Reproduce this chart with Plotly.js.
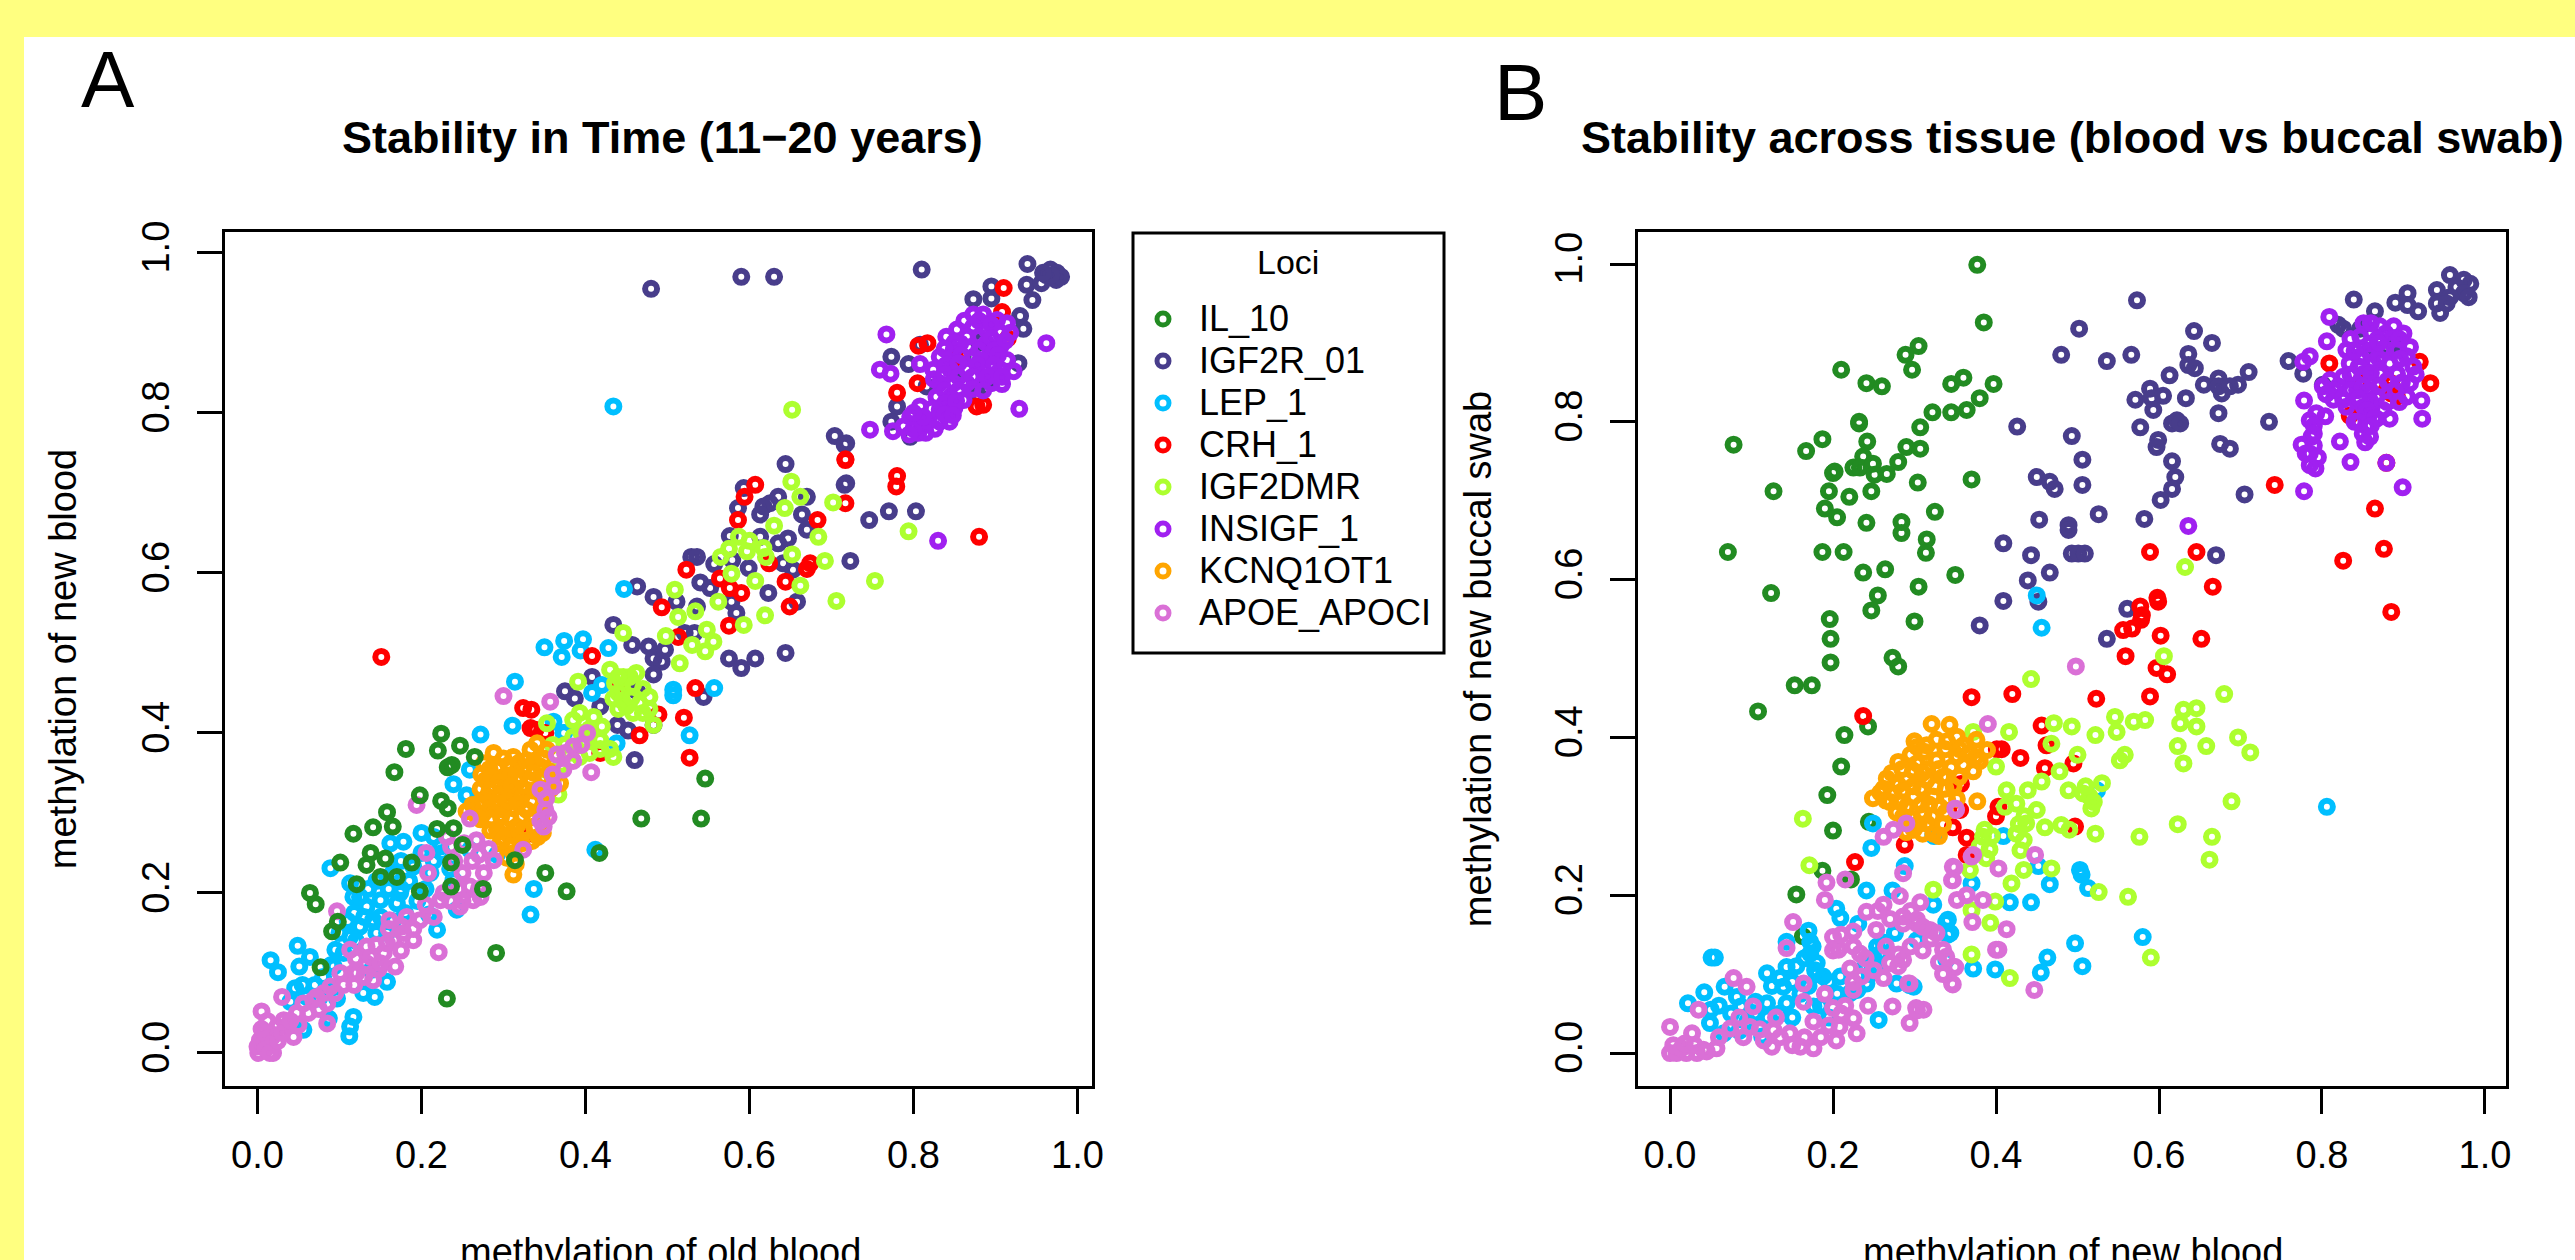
<!DOCTYPE html>
<html><head><meta charset="utf-8">
<script src="https://cdn.plot.ly/plotly-3.0.1.min.js"></script>
<style>html,body{margin:0;padding:0;background:#fff}#c{width:2575px;height:1260px}</style></head>
<body><div id="c"></div>
<script>
const LOCI = ["IL_10","IGF2R_01","LEP_1","CRH_1","IGF2DMR","INSIGF_1","KCNQ1OT1","APOE_APOCI"];
const COLORS = ["#228B22","#483D8B","#00BFFF","#FF0000","#ADFF2F","#A020F0","#FFA500","#DA70D6"];
const TICKS = [0,0.2,0.4,0.6,0.8,1.0];

// Panel A: [old blood, new blood]
const A_IL10 = [[.224,.399],[.247,.384],[.220,.378],[.181,.380],[.265,.370],[.237,.360],[.232,.357],[.167,.351],[.198,.322],[.224,.315],[.232,.306],[.158,.301],[.141,.282],[.165,.283],[.117,.274],[.219,.280],[.239,.281],[.250,.260],[.138,.250],[.156,.243],[.133,.235],[.101,.238],[.188,.238],[.236,.238],[.150,.220],[.170,.220],[.121,.211],[.198,.202],[.236,.208],[.275,.205],[.064,.200],[.071,.186],[.098,.164],[.091,.152],[.077,.107],[.314,.241],[.351,.225],[.377,.202],[.291,.125],[.231,.068],[.417,.250],[.546,.343],[.468,.293],[.541,.293]];
const A_IGF2R = [[.810,.979],[.939,.986],[.938,.960],[.956,.962],[.945,.941],[.967,.979],[.975,.975],[.962,.972],[.974,.966],[.980,.970],[.968,.972],[.958,.975],[.873,.942],[.895,.958],[.895,.943],[.930,.921],[.934,.905],[.928,.862],[.773,.870],[.794,.861],[.808,.885],[.816,.833],[.780,.808],[.773,.789],[.796,.770],[.879,.822],[.880,.888],[.718,.762],[.718,.712],[.850,.850],[.860,.870],[.890,.840],[.704,.771],[.716,.760],[.644,.736],[.716,.710],[.803,.677],[.770,.677],[.746,.666],[.723,.615],[.593,.706],[.586,.681],[.625,.687],[.617,.683],[.635,.695],[.670,.695],[.613,.673],[.664,.673],[.670,.654],[.576,.646],[.613,.645],[.635,.637],[.647,.643],[.529,.620],[.536,.620],[.557,.611],[.579,.616],[.599,.606],[.641,.612],[.653,.604],[.540,.588],[.552,.581],[.623,.575],[.658,.564],[.578,.564],[.584,.550],[.536,.558],[.483,.570],[.463,.583],[.511,.564],[.521,.525],[.533,.525],[.434,.535],[.457,.510],[.477,.508],[.483,.493],[.493,.489],[.497,.504],[.483,.473],[.408,.470],[.375,.452],[.387,.443],[.418,.433],[.463,.452],[.575,.493],[.590,.481],[.607,.493],[.644,.500],[.544,.445],[.439,.410],[.452,.403],[.483,.410],[.460,.366],[.480,.955],[.590,.970],[.630,.970]];
const A_LEP = [[.314,.464],[.272,.398],[.311,.409],[.374,.400],[.239,.336],[.259,.354],[.255,.322],[.089,.231],[.113,.212],[.162,.262],[.178,.264],[.200,.275],[.223,.258],[.117,.195],[.133,.183],[.150,.191],[.170,.187],[.141,.166],[.125,.158],[.158,.150],[.219,.154],[.209,.173],[.243,.179],[.337,.205],[.333,.173],[.412,.254],[.016,.116],[.025,.101],[.049,.134],[.064,.120],[.051,.108],[.095,.129],[.093,.108],[.046,.081],[.040,.064],[.097,.068],[.139,.104],[.158,.089],[.129,.075],[.143,.070],[.087,.043],[.117,.045],[.113,.033],[.112,.021],[.056,.029],[.113,.145],[.239,.216],[.174,.200],[.190,.233],[.211,.225],[.259,.254],[.292,.248],[.350,.507],[.371,.495],[.374,.515],[.397,.517],[.394,.503],[.428,.506],[.447,.580],[.507,.454],[.507,.447],[.557,.456],[.527,.397],[.408,.450],[.420,.460],[.373,.400],[.438,.387],[.361,.414],[.434,.808],[.100,.150],[.110,.165],[.118,.175],[.125,.195],[.135,.205],[.145,.215],[.160,.205],[.165,.225],[.175,.240],[.185,.215],[.195,.190],[.205,.205],[.215,.240],[.225,.250],[.235,.230],[.150,.170],[.165,.165],[.180,.175],[.120,.140],[.105,.125],[.090,.110],[.080,.095],[.070,.085],[.060,.070],[.085,.080],[.055,.085],[.075,.068],[.130,.170],[.145,.150],[.175,.205],[.200,.250],[.215,.270]];
const A_CRH = [[.910,.956],[.908,.926],[.915,.893],[.851,.869],[.806,.884],[.817,.887],[.805,.837],[.780,.825],[.885,.810],[.877,.808],[.717,.741],[.780,.721],[.607,.710],[.594,.695],[.586,.666],[.683,.666],[.717,.742],[.717,.687],[.779,.708],[.624,.612],[.674,.612],[.670,.605],[.523,.604],[.564,.593],[.590,.575],[.644,.589],[.576,.581],[.649,.558],[.493,.557],[.575,.534],[.513,.520],[.408,.496],[.438,.460],[.534,.456],[.489,.423],[.520,.419],[.466,.397],[.527,.369],[.418,.375],[.334,.429],[.339,.404],[.351,.400],[.151,.495],[.324,.431],[.333,.406],[.326,.272],[.293,.356],[.880,.645]];
const A_IGF2DMR = [[.651,.714],[.662,.695],[.702,.688],[.643,.681],[.630,.659],[.684,.645],[.587,.645],[.794,.652],[.597,.627],[.617,.631],[.652,.623],[.692,.615],[.753,.590],[.706,.565],[.619,.547],[.662,.584],[.607,.590],[.578,.599],[.593,.535],[.562,.564],[.509,.579],[.534,.552],[.513,.545],[.498,.521],[.556,.514],[.546,.502],[.548,.529],[.515,.487],[.446,.525],[.446,.470],[.454,.470],[.462,.475],[.430,.479],[.434,.443],[.450,.433],[.466,.437],[.391,.464],[.393,.425],[.353,.412],[.385,.416],[.418,.391],[.434,.370],[.393,.370],[.367,.323],[.351,.354],[.483,.410],[.652,.804],[.440,.450],[.470,.425],[.410,.420],[.375,.385],[.400,.390],[.530,.510],[.436,.462],[.445,.455],[.458,.460],[.470,.455],[.445,.440],[.456,.443],[.478,.445],[.440,.430],[.458,.425],[.478,.430],[.420,.408],[.405,.405],[.395,.400],[.385,.395],[.418,.380],[.405,.375],[.380,.375],[.370,.360],[.360,.385],[.430,.380],[.440,.470],[.565,.620],[.575,.630],[.600,.640],[.620,.620]];
const A_INSIGF = [[.767,.898],[.962,.887],[.929,.805],[.747,.779],[.759,.854],[.772,.849],[.775,.777],[.873,.923],[.885,.923],[.902,.916],[.914,.912],[.853,.904],[.873,.908],[.889,.904],[.906,.900],[.918,.900],[.840,.895],[.857,.887],[.889,.887],[.906,.883],[.849,.879],[.832,.870],[.873,.870],[.893,.870],[.914,.866],[.808,.861],[.824,.854],[.845,.854],[.865,.854],[.885,.854],[.906,.854],[.922,.852],[.832,.837],[.849,.837],[.865,.837],[.895,.837],[.908,.836],[.828,.820],[.845,.820],[.861,.816],[.832,.804],[.850,.806],[.844,.789],[.832,.789],[.808,.808],[.796,.795],[.808,.791],[.788,.783],[.806,.775],[.816,.787],[.830,.640],[.862,.915],[.880,.915],[.895,.910],[.865,.895],[.880,.895],[.895,.893],[.850,.888],[.868,.882],[.880,.878],[.898,.878],[.912,.890],[.838,.880],[.858,.872],[.882,.866],[.903,.872],[.840,.860],[.855,.862],[.878,.860],[.898,.860],[.825,.842],[.838,.848],[.855,.845],[.872,.845],[.890,.845],[.908,.845],[.838,.828],[.855,.828],[.872,.830],[.885,.828],[.838,.812],[.852,.815],[.822,.805],[.838,.798],[.826,.780],[.815,.775],[.800,.780],[.795,.773],[.812,.795],[.800,.800],[.848,.797]];
const A_KCNQ = [[.276,.362],[.300,.368],[.333,.379],[.278,.341],[.300,.345],[.324,.354],[.345,.358],[.280,.320],[.304,.325],[.328,.329],[.276,.300],[.300,.304],[.328,.304],[.345,.300],[.369,.337],[.292,.279],[.316,.283],[.337,.283],[.348,.275],[.296,.262],[.316,.270],[.255,.302],[.288,.375],[.312,.370],[.333,.341],[.312,.306],[.288,.333],[.316,.341],[.288,.312],[.312,.250],[.312,.223],[.328,.366],[.341,.387],[.353,.379],[.283,.355],[.294,.358],[.306,.360],[.318,.362],[.337,.365],[.349,.368],[.273,.348],[.285,.345],[.294,.338],[.308,.347],[.320,.345],[.337,.350],[.350,.345],[.272,.330],[.283,.328],[.296,.322],[.310,.333],[.322,.320],[.336,.328],[.347,.322],[.360,.340],[.270,.312],[.283,.305],[.294,.312],[.305,.315],[.318,.312],[.335,.315],[.349,.312],[.272,.292],[.285,.293],[.297,.295],[.309,.292],[.322,.295],[.335,.295],[.347,.290],[.284,.278],[.300,.282],[.308,.274],[.325,.280],[.342,.270],[.300,.268],[.308,.258],[.322,.262],[.335,.265],[.304,.244],[.315,.236],[.262,.310],[.268,.295],[.358,.330],[.356,.352]];
const A_APOE = [[.001,.000],[.003,.016],[.019,.000],[.005,.052],[.030,.070],[.024,.033],[.036,.033],[.044,.020],[.068,.066],[.056,.062],[.081,.075],[.085,.037],[.101,.100],[.117,.100],[.141,.091],[.168,.108],[.113,.129],[.133,.133],[.154,.125],[.166,.141],[.190,.141],[.221,.126],[.182,.170],[.161,.166],[.097,.177],[.194,.310],[.300,.446],[.357,.439],[.407,.351],[.208,.225],[.223,.191],[.247,.183],[.259,.208],[.276,.225],[.288,.241],[.324,.254],[.206,.250],[.231,.270],[.259,.293],[.267,.266],[.351,.304],[.345,.329],[.365,.373],[.385,.383],[.402,.400],[.373,.354],[.227,.200],[.263,.191],[.198,.166],[.176,.158],[.133,.112],[.158,.137],[.121,.100],[.089,.083],[.072,.070],[.048,.050],[.032,.041],[.015,.025],[.009,.012],[.000,.008],[.361,.333],[.349,.283],[.010,.005],[.015,.000],[.008,.025],[.018,.020],[.025,.015],[.005,.030],[.012,.040],[.030,.025],[.040,.040],[.050,.035],[.062,.050],[.075,.055],[.085,.062],[.095,.075],[.105,.085],[.118,.085],[.130,.095],[.148,.105],[.120,.118],[.138,.120],[.150,.112],[.175,.128],[.145,.135],[.160,.155],[.178,.150],[.190,.155],[.215,.170],[.205,.185],[.235,.190],[.245,.205],[.270,.205],[.250,.225],[.240,.240],[.262,.240],[.270,.248],[.282,.255],[.236,.258],[.252,.262],[.250,.190],[.272,.195],[.345,.290],[.355,.295],[.352,.318],[.360,.348],[.375,.375],[.395,.385],[.385,.365]];

// Panel B: [new blood, new buccal swab]
const B_IL10 = [[.377,.999],[.385,.926],[.305,.896],[.289,.885],[.297,.866],[.210,.866],[.241,.849],[.260,.845],[.360,.856],[.345,.848],[.397,.848],[.380,.830],[.364,.815],[.345,.812],[.322,.812],[.307,.793],[.232,.800],[.232,.798],[.242,.775],[.187,.778],[.167,.763],[.078,.771],[.290,.768],[.307,.766],[.237,.756],[.280,.749],[.225,.742],[.233,.742],[.249,.747],[.251,.733],[.266,.734],[.202,.737],[.200,.735],[.304,.723],[.370,.727],[.127,.712],[.195,.712],[.220,.705],[.247,.712],[.190,.690],[.205,.679],[.325,.686],[.241,.672],[.284,.673],[.284,.659],[.315,.651],[.314,.634],[.071,.635],[.187,.635],[.213,.635],[.237,.609],[.264,.613],[.350,.606],[.305,.591],[.124,.583],[.255,.580],[.247,.561],[.196,.550],[.300,.547],[.197,.525],[.273,.501],[.197,.495],[.280,.490],[.153,.466],[.174,.466],[.108,.433],[.243,.414],[.214,.403],[.210,.363],[.193,.327],[.200,.282],[.244,.293],[.187,.231],[.222,.220],[.155,.201],[.163,.148]];
const B_IGF2R = [[.502,.918],[.480,.885],[.536,.877],[.426,.794],[.493,.782],[.506,.752],[.450,.730],[.466,.724],[.472,.715],[.506,.720],[.526,.683],[.453,.676],[.489,.669],[.489,.663],[.409,.646],[.443,.631],[.493,.633],[.501,.633],[.509,.633],[.466,.609],[.439,.599],[.409,.573],[.452,.572],[.380,.542],[.536,.525],[.573,.954],[.643,.915],[.665,.900],[.566,.885],[.636,.886],[.613,.859],[.636,.872],[.644,.868],[.655,.847],[.673,.855],[.673,.845],[.677,.836],[.710,.863],[.697,.847],[.687,.845],[.571,.828],[.589,.842],[.591,.830],[.605,.833],[.633,.830],[.593,.815],[.673,.811],[.735,.800],[.577,.793],[.616,.798],[.622,.802],[.626,.798],[.599,.777],[.597,.768],[.675,.772],[.687,.766],[.616,.750],[.620,.730],[.616,.715],[.602,.701],[.705,.708],[.582,.677],[.670,.631],[.759,.877],[.777,.861],[.839,.955],[.865,.940],[.890,.951],[.905,.963],[.905,.948],[.918,.940],[.941,.967],[.941,.950],[.945,.938],[.957,.986],[.974,.980],[.982,.975],[.965,.971],[.974,.963],[.957,.958],[.980,.958],[.953,.950],[.820,.923],[.826,.918],[.847,.918],[.879,.895],[.891,.899],[.867,.891],[.801,.847],[.561,.563]];
const B_LEP = [[.450,.580],[.456,.539],[.249,.291],[.247,.260],[.323,.276],[.241,.206],[.273,.206],[.288,.237],[.323,.188],[.204,.183],[.209,.171],[.231,.164],[.276,.152],[.341,.169],[.341,.150],[.303,.143],[.172,.141],[.143,.141],[.055,.121],[.051,.121],[.254,.135],[.258,.126],[.172,.126],[.143,.109],[.180,.114],[.188,.097],[.255,.109],[.209,.097],[.119,.101],[.139,.084],[.042,.077],[.022,.063],[.067,.084],[.082,.071],[.119,.063],[.143,.063],[.176,.059],[.221,.076],[.241,.088],[.278,.088],[.299,.084],[.256,.042],[.049,.038],[.066,.025],[.087,.059],[.113,.021],[.135,.050],[.104,.050],[.339,.118],[.372,.107],[.399,.106],[.324,.275],[.409,.275],[.524,.333],[.452,.237],[.466,.214],[.503,.232],[.505,.226],[.513,.209],[.417,.191],[.443,.191],[.339,.166],[.344,.152],[.580,.147],[.497,.139],[.463,.121],[.506,.110],[.455,.102],[.806,.312],[.370,.215],[.294,.086],[.125,.085],[.135,.095],[.150,.090],[.160,.075],[.170,.085],[.180,.100],[.195,.090],[.205,.075],[.155,.110],[.165,.120],[.178,.105],[.120,.045],[.150,.045],[.185,.060],[.195,.045],[.075,.050],[.095,.040],[.085,.028],[.105,.065],[.060,.060],[.050,.055],[.250,.120],[.262,.140],[.245,.100],[.230,.080],[.240,.110],[.175,.135],[.170,.155]];
const B_CRH = [[.809,.874],[.920,.876],[.933,.849],[.885,.849],[.885,.836],[.879,.840],[.892,.832],[.847,.851],[.834,.808],[.879,.748],[.742,.720],[.865,.690],[.876,.639],[.826,.624],[.885,.559],[.589,.635],[.646,.635],[.666,.591],[.598,.577],[.577,.566],[.579,.555],[.599,.572],[.578,.549],[.567,.538],[.556,.536],[.602,.529],[.652,.525],[.559,.503],[.597,.488],[.610,.480],[.370,.451],[.420,.455],[.523,.449],[.589,.452],[.456,.415],[.462,.390],[.407,.385],[.401,.385],[.430,.374],[.460,.361],[.495,.367],[.357,.341],[.403,.312],[.400,.300],[.356,.308],[.347,.286],[.364,.273],[.288,.264],[.364,.251],[.497,.287],[.227,.242],[.237,.427]];
const B_IGF2DMR = [[.606,.503],[.443,.474],[.632,.616],[.680,.455],[.546,.426],[.548,.407],[.569,.420],[.583,.422],[.626,.418],[.630,.435],[.646,.437],[.646,.414],[.493,.414],[.471,.418],[.522,.403],[.416,.407],[.372,.407],[.468,.392],[.500,.378],[.658,.389],[.623,.389],[.630,.367],[.697,.400],[.712,.381],[.552,.371],[.558,.378],[.400,.363],[.478,.357],[.456,.344],[.439,.333],[.530,.342],[.489,.333],[.507,.329],[.515,.325],[.517,.310],[.413,.333],[.425,.316],[.411,.312],[.450,.308],[.437,.291],[.460,.286],[.480,.289],[.490,.283],[.522,.278],[.576,.274],[.623,.290],[.665,.274],[.662,.245],[.689,.319],[.386,.283],[.384,.274],[.425,.278],[.434,.270],[.430,.257],[.388,.247],[.368,.232],[.434,.232],[.468,.234],[.419,.215],[.526,.204],[.562,.198],[.323,.207],[.399,.192],[.370,.181],[.393,.165],[.370,.125],[.590,.121],[.417,.095],[.163,.297],[.171,.238],[.392,.258],[.380,.262],[.395,.275],[.428,.290],[.435,.300],[.520,.318],[.510,.338]];
const B_INSIGF = [[.809,.933],[.806,.902],[.785,.883],[.777,.876],[.778,.827],[.793,.811],[.804,.807],[.785,.802],[.826,.828],[.922,.827],[.923,.804],[.822,.775],[.853,.774],[.775,.771],[.835,.749],[.792,.741],[.785,.760],[.787,.781],[.778,.712],[.899,.717],[.636,.668],[.879,.748],[.883,.804],[.867,.804],[.855,.794],[.859,.781],[.810,.853],[.826,.857],[.843,.840],[.851,.925],[.871,.921],[.888,.921],[.900,.912],[.847,.908],[.859,.899],[.847,.883],[.863,.874],[.883,.874],[.904,.883],[.908,.895],[.912,.870],[.851,.861],[.871,.861],[.892,.861],[.908,.849],[.859,.840],[.851,.819],[.830,.819],[.814,.828],[.801,.845],[.830,.891],[.834,.874],[.875,.891],[.892,.891],[.867,.832],[.904,.832],[.875,.815],[.859,.811],[.860,.925],[.878,.912],[.868,.905],[.885,.905],[.857,.890],[.870,.880],[.896,.880],[.845,.870],[.860,.862],[.880,.852],[.898,.850],[.915,.860],[.835,.860],[.820,.845],[.835,.840],[.850,.845],[.870,.845],[.890,.840],[.815,.840],[.805,.835],[.860,.825],[.880,.825],[.895,.825],[.845,.830],[.855,.815],[.865,.805],[.840,.800],[.850,.785],[.845,.800],[.860,.795],[.790,.795],[.790,.770],[.780,.760],[.795,.755],[.785,.745],[.790,.785],[.870,.900],[.895,.905],[.835,.905],[.840,.890]];
const B_KCNQ = [[.321,.417],[.343,.416],[.303,.388],[.327,.397],[.352,.401],[.376,.397],[.389,.384],[.280,.369],[.303,.367],[.327,.371],[.352,.376],[.368,.380],[.266,.348],[.290,.346],[.315,.346],[.339,.350],[.372,.357],[.249,.323],[.274,.329],[.299,.325],[.323,.325],[.348,.338],[.377,.319],[.286,.300],[.311,.304],[.331,.312],[.299,.283],[.315,.291],[.323,.278],[.300,.395],[.315,.390],[.340,.395],[.360,.390],[.295,.378],[.312,.382],[.338,.385],[.355,.385],[.375,.375],[.285,.360],[.298,.358],[.315,.360],[.330,.360],[.345,.362],[.360,.365],[.272,.355],[.280,.340],[.298,.338],[.308,.335],[.325,.338],[.338,.335],[.355,.350],[.262,.335],[.270,.318],[.283,.318],[.290,.312],[.308,.315],[.318,.315],[.340,.322],[.352,.322],[.258,.330],[.278,.305],[.295,.298],[.305,.290],[.322,.300],[.338,.305],[.290,.280],[.310,.278],[.335,.290],[.330,.275],[.265,.320],[.285,.332],[.310,.355],[.335,.350],[.380,.370]];
const B_APOE = [[.000,.033],[.000,.000],[.008,.000],[.020,.000],[.033,.000],[.041,.004],[.004,.010],[.014,.006],[.027,.025],[.057,.006],[.035,.055],[.078,.095],[.094,.084],[.102,.059],[.074,.031],[.098,.033],[.125,.008],[.127,.029],[.115,.016],[.147,.025],[.160,.008],[.176,.006],[.176,.040],[.164,.065],[.164,.088],[.143,.133],[.151,.166],[.190,.194],[.192,.216],[.215,.220],[.200,.057],[.208,.033],[.204,.016],[.229,.025],[.225,.044],[.225,.080],[.243,.060],[.273,.059],[.294,.038],[.302,.057],[.311,.055],[.347,.087],[.349,.109],[.292,.088],[.270,.114],[.286,.118],[.233,.126],[.221,.107],[.235,.097],[.207,.131],[.200,.147],[.225,.154],[.253,.156],[.286,.173],[.303,.169],[.319,.156],[.335,.131],[.339,.122],[.241,.179],[.262,.188],[.282,.199],[.286,.228],[.274,.283],[.262,.274],[.290,.291],[.350,.310],[.307,.191],[.352,.194],[.364,.200],[.384,.194],[.349,.235],[.347,.219],[.371,.166],[.400,.131],[.390,.417],[.372,.251],[.498,.490],[.351,.308],[.370,.249],[.403,.234],[.347,.236],[.346,.219],[.413,.157],[.403,.131],[.350,.109],[.346,.088],[.447,.080],[.294,.088],[.303,.054],[.448,.251],[.327,.152],[.303,.164],[.286,.164],[.030,.010],[.045,.002],[.018,.012],[.135,.020],[.150,.010],[.165,.020],[.185,.020],[.195,.035],[.210,.050],[.190,.075],[.215,.060],[.130,.045],[.110,.030],[.090,.020],[.085,.045],[.060,.020],[.200,.130],[.210,.150],[.225,.135],[.240,.120],[.265,.135],[.280,.125],[.295,.135],[.310,.130],[.320,.145],[.330,.115],[.335,.100],[.250,.105],[.225,.090],[.310,.160],[.295,.180],[.270,.170],[.255,.180],[.280,.110],[.262,.095]];

const PANEL_A = [A_IL10,A_IGF2R,A_LEP,A_CRH,A_IGF2DMR,A_INSIGF,A_KCNQ,A_APOE];
const PANEL_B = [B_IL10,B_IGF2R,B_LEP,B_CRH,B_IGF2DMR,B_INSIGF,B_KCNQ,B_APOE];
const ORDER_A = [1,2,3,4,5,6,7,0];
const ORDER_B = [0,1,2,3,4,5,6,7];

const W = 2575, H = 1260;
const px = v => v / W, py = v => 1 - v / H;
const FONT = "Liberation Sans, Arial, sans-serif";

function trace(points, i, xa, ya, legend) {
  return {
    type: "scatter", mode: "markers", xaxis: xa, yaxis: ya,
    name: '<span style="font-size:36px">' + LOCI[i] + '</span>',
    x: points.map(p => p[0]), y: points.map(p => p[1]),
    showlegend: legend, legendrank: i + 1, cliponaxis: false,
    marker: {symbol: "circle-open", size: 12, color: COLORS[i], line: {width: 6, color: COLORS[i]}}
  };
}
const data = [
  ...ORDER_A.map(i => trace(PANEL_A[i], i, "x", "y", true)),
  ...ORDER_B.map(i => trace(PANEL_B[i], i, "x2", "y2", false))
];
function axis(extra, titleText, standoff) {
  const a = Object.assign({
    showgrid: false, zeroline: false, showline: true, mirror: true, linecolor: "#000", linewidth: 3,
    ticks: "outside", ticklen: 25, tickwidth: 3, tickcolor: "#000",
    tickvals: TICKS, tickformat: ".1f",
    tickfont: {family: FONT, size: 38, color: "#000"},
    automargin: false
  }, extra);
  if (titleText) a.title = {text: titleText, standoff: standoff, font: {family: FONT, size: 38, color: "#000"}};
  return a;
}
function note(text, x, y, size, weight) {
  return {text: text, xref: "paper", yref: "paper", x: px(x), y: py(y), xanchor: "center", yanchor: "middle", showarrow: false,
          font: {family: FONT, size: size, color: "#000", weight: weight || "normal"}};
}
const layout = {
  width: W, height: H, margin: {l: 0, r: 0, t: 0, b: 0},
  paper_bgcolor: "#FFFF80", plot_bgcolor: "#FFFFFF", showlegend: true, font: {family: FONT, color: "#000"},
  xaxis: axis({domain: [px(225), px(1092)], range: [-0.0396, 1.0177], anchor: "y", ticklabelstandoff: 8}),
  yaxis: axis({domain: [py(1086), py(232)], range: [-0.04125, 1.026], anchor: "x", tickangle: -90, ticklabelstandoff: 13}, "methylation of new blood", 47),
  xaxis2: axis({domain: [px(1638), px(2506)], range: [-0.0393, 1.0258], anchor: "y2", ticklabelstandoff: 8}),
  yaxis2: axis({domain: [py(1086), py(232)], range: [-0.0418, 1.0406], anchor: "x2", tickangle: -90, ticklabelstandoff: 13}, "methylation of new buccal swab", 45),
  shapes: [
    {type: "rect", xref: "paper", yref: "paper", x0: px(24), x1: 1, y0: 0, y1: py(37), fillcolor: "#FFFFFF", line: {width: 0}, layer: "below"},
    {type: "rect", xref: "paper", yref: "paper", x0: px(1133), x1: px(1444), y0: py(653), y1: py(233), fillcolor: "#FFFFFF", line: {width: 3, color: "#000"}, layer: "below"}
  ],
  legend: {
    x: px(1127), y: py(293), xanchor: "left", yanchor: "top", bgcolor: "rgba(0,0,0,0)", borderwidth: 0,
    font: {family: FONT, size: 30, color: "#000"}, traceorder: "normal", itemsizing: "trace", itemwidth: 62, itemclick: false
  },
  annotations: [
    note("Loci", 1288, 262, 34),
    note("Stability in Time (11\u221220 years)", 662, 137, 45, "bold"),
    note("Stability across tissue (blood vs buccal swab)", 2072, 137, 45, "bold"),
    note("A", 108, 79, 80),
    note("B", 1520, 93, 80),
    note("methylation of old blood", 660, 1252, 38),
    note("methylation of new blood", 2073, 1252, 38)
  ]
};
Plotly.newPlot("c", data, layout, {displayModeBar: false, staticPlot: true});
</script></body></html>
